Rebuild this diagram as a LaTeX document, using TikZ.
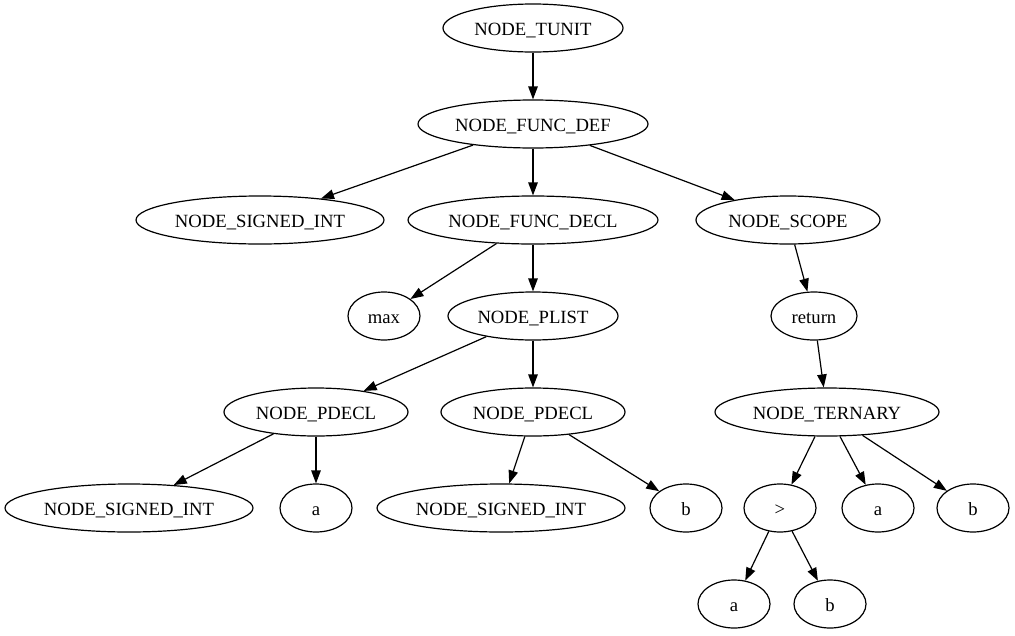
\documentclass[tikz,border=0pt]{standalone}
\usepackage{fontspec}
\setmainfont{Liberation Serif}
\usetikzlibrary{shapes.geometric,arrows.meta}
\begin{document}
\begin{tikzpicture}[x=1pt,y=-1pt,
  nd/.style={ellipse,draw,line width=1.2pt,inner sep=0pt,minimum height=48pt,
    text height=16pt,text depth=2pt,
    font=\fontsize{18.67}{20}\selectfont},
  edge/.style={line width=1.2pt,-{Triangle[length=13pt,width=9.5pt]}}]
\useasboundingbox (0,0) rectangle (1015,635);
\node[nd,minimum width=180pt] (tunit) at (533,28) {NODE\_TUNIT};
\node[nd,minimum width=230pt] (fdef) at (533,124) {NODE\_FUNC\_DEF};
\node[nd,minimum width=248pt] (si1) at (260,220) {NODE\_SIGNED\_INT};
\node[nd,minimum width=250pt] (fdecl) at (533,220) {NODE\_FUNC\_DECL};
\node[nd,minimum width=184pt] (scope) at (788,220) {NODE\_SCOPE};
\node[nd,minimum width=72pt] (max) at (384,316) {max};
\node[nd,minimum width=170pt] (plist) at (533,316) {NODE\_PLIST};
\node[nd,minimum width=86pt] (ret) at (814,316) {return};
\node[nd,minimum width=184pt] (pd1) at (316,412) {NODE\_PDECL};
\node[nd,minimum width=184pt] (pd2) at (533,412) {NODE\_PDECL};
\node[nd,minimum width=224pt] (tern) at (827,412) {NODE\_TERNARY};
\node[nd,minimum width=248pt] (si2) at (129,508) {NODE\_SIGNED\_INT};
\node[nd,minimum width=72pt] (a1) at (316,508) {a};
\node[nd,minimum width=248pt] (si3) at (501,508) {NODE\_SIGNED\_INT};
\node[nd,minimum width=72pt] (b1) at (686,508) {b};
\node[nd,minimum width=72pt] (gt) at (780,508) {>};
\node[nd,minimum width=72pt] (a2) at (878,508) {a};
\node[nd,minimum width=72pt] (b2) at (973,508) {b};
\node[nd,minimum width=72pt] (a3) at (734,604) {a};
\node[nd,minimum width=72pt] (b3) at (830,604) {b};
\draw[edge] (tunit) -- (fdef);
\draw[edge] (fdef) -- (si1);
\draw[edge] (fdef) -- (fdecl);
\draw[edge] (fdef) -- (scope);
\draw[edge] (fdecl) -- (max);
\draw[edge] (fdecl) -- (plist);
\draw[edge] (scope) -- (ret);
\draw[edge] (plist) -- (pd1);
\draw[edge] (plist) -- (pd2);
\draw[edge] (ret) -- (tern);
\draw[edge] (pd1) -- (si2);
\draw[edge] (pd1) -- (a1);
\draw[edge] (pd2) -- (si3);
\draw[edge] (pd2) -- (b1);
\draw[edge] (tern) -- (gt);
\draw[edge] (tern) -- (a2);
\draw[edge] (tern) -- (b2);
\draw[edge] (gt) -- (a3);
\draw[edge] (gt) -- (b3);
\end{tikzpicture}
\end{document}
